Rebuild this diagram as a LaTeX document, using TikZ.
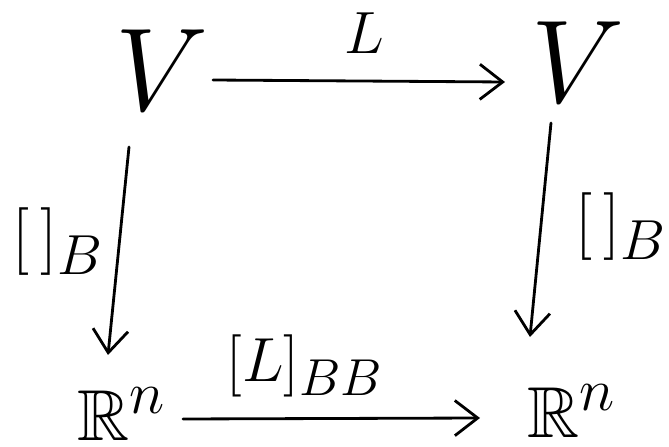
\documentclass[tikz,border=0pt]{standalone}
\usepackage{amsmath}
\usepackage{amssymb}
\usetikzlibrary{arrows.meta}

\begin{document}
\begin{tikzpicture}[>={Straight Barb[length=13pt,width=20pt]}]
  \tikzset{
    space/.style={inner sep=0pt, font=\Huge, scale=2.7},
    coord/.style={inner sep=0pt, font=\Huge, scale=1.65},
    maplabel/.style={inner sep=0pt, font=\Huge, scale=1.55},
    map/.style={->, line width=1.6pt, line cap=round}
  }
  \useasboundingbox (0,0) rectangle (13.38,8.94);
  % the two copies of V
  \node[space] (vl) at (3.24,7.54) {$V$};
  \node[space] (vr) at (11.56,7.70) {$V$};
  % the coordinate spaces
  \node[coord] (rl) at (2.44,0.66) {$\mathbb{R}^n$};
  \node[coord] (rr) at (11.44,0.72) {$\mathbb{R}^n$};
  % L on top
  \draw[map] ([shift={(1.02,-0.20)}]vl.center) -- ([shift={(-1.46,-0.40)}]vr.center);
  \node[maplabel, scale=0.88] (lbl) at (7.28,8.28) {$L$};
  % coordinate maps down the sides
  \draw[map] ([shift={(-0.66,-1.54)}]vl.center) -- ([shift={(-0.28,1.18)}]rl.center);
  \node[maplabel] (bl) at (1.16,4.10) {$[\,]_{B}$};
  \draw[map] ([shift={(-0.54,-1.22)}]vr.center) -- ([shift={(-0.84,1.48)}]rr.center);
  \node[maplabel] (br) at (12.42,4.40) {$[\,]_{B}$};
  % matrix of L along the bottom
  \draw[map] ([shift={(1.22,-0.10)}]rl.center) -- ([shift={(-1.84,-0.14)}]rr.center);
  \node[maplabel, scale=0.92] (mat) at (6.10,1.62) {$[L]_{BB}$};
\end{tikzpicture}
\end{document}
